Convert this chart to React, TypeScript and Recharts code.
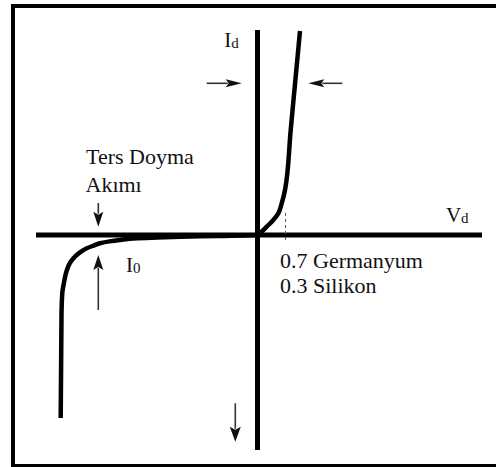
import React from "react";
import { LineChart, Line, XAxis, YAxis, ReferenceLine, ReferenceDot } from "recharts";

// diode I-V curve, reverse breakdown -> origin -> forward conduction
const voltage = [-4.92, -4.9, -4.88, -4.84, -4.78, -4.69, -4.6, -4.52, -4.4, -4.27, -4.1, -3.94, -3.7, -3.44, -3.01, -2.5, -1.94, -1.0, 0, 0.12, 0.23, 0.395, 0.52, 0.605, 0.6875, 0.83, 0.94, 1.0625];
const current = [-9.15, -4.0, -2.9, -2.4, -1.85, -1.4, -1.16, -1.0, -0.82, -0.665, -0.53, -0.415, -0.32, -0.25, -0.16, -0.12, -0.09, -0.05, 0, 0.2, 0.415, 0.75, 1.085, 1.585, 2.25, 5.25, 7.6, 10.2];

const kneeVoltage = 0.7;

const curve = voltage.map((v, k) => ({ v, i: current[k] }));

const X_DOMAIN: [number, number] = [-6.4375, 5.9625];
const Y_DOMAIN: [number, number] = [-11.6, 11.75];

const FONT = '"Liberation Serif", "Times New Roman", Times, serif';
const INK = "#111";

type Pt = { x: number; y: number };

// arrows: tail -> tip, in chart units
const arrows: { from: Pt; to: Pt; head: number; hw: number }[] = [
  { from: { x: -1.27, y: 7.585 }, to: { x: -0.395, y: 7.585 }, head: 16, hw: 4 },
  { from: { x: 2.12, y: 7.585 }, to: { x: 1.27, y: 7.585 }, head: 16, hw: 4 },
  { from: { x: -3.98, y: 1.6 }, to: { x: -3.98, y: 0.415 }, head: 15, hw: 5 },
  { from: { x: -3.98, y: -3.75 }, to: { x: -3.98, y: -1.0 }, head: 15, hw: 5 },
  { from: { x: -0.555, y: -8.415 }, to: { x: -0.555, y: -10.335 }, head: 15, hw: 5.5 },
];

const notes = [
  { text: "Ters Doyma", x: -4.2875, y: 3.55 },
  { text: "Akımı", x: -4.3, y: 2.165 },
  { text: "0.7 Germanyum", x: 0.5625, y: -1.665 },
  { text: "0.3 Silikon", x: 0.5625, y: -2.915 },
];

const symbols = [
  { main: "I", sub: "d", x: -0.83, y: 9.4 },
  { main: "V", sub: "d", x: 4.71, y: 0.65 },
  { main: "I", sub: "0", x: -3.29, y: -1.835 },
];

function Arrow(p: any) {
  const { x1, y1, x2, y2, head, hw } = p;
  const dx = x2 - x1;
  const dy = y2 - y1;
  const len = Math.hypot(dx, dy) || 1;
  const ux = dx / len;
  const uy = dy / len;
  const bx = x2 - ux * head;
  const by = y2 - uy * head;
  const px = -uy;
  const py = ux;
  return (
    <g>
      <line x1={x1} y1={y1} x2={bx + ux * 2} y2={by + uy * 2} stroke="#333" strokeWidth={1.6} />
      <polygon
        points={`${x2},${y2} ${bx + px * hw},${by + py * hw} ${bx + ux * 3},${by + uy * 3} ${bx - px * hw},${by - py * hw}`}
        fill={INK}
      />
    </g>
  );
}

export default function App() {
  return (
    <div style={{ position: "absolute", left: 0, top: 0, width: 496, height: 467, overflow: "hidden", background: "#fff" }}>
      <div
        style={{
          position: "absolute",
          left: 11,
          top: 4,
          width: 600,
          height: 464,
          border: "4px solid #000",
          boxSizing: "border-box",
        }}
      />
      <div style={{ position: "absolute", left: 0, top: 0 }}>
        <LineChart width={496} height={467} data={curve} margin={{ top: 0, right: 0, bottom: 0, left: 0 }}>
          <XAxis dataKey="v" type="number" domain={X_DOMAIN} allowDataOverflow hide />
          <YAxis type="number" domain={Y_DOMAIN} allowDataOverflow hide />

          {/* axes */}
          <ReferenceLine segment={[{ x: -5.5375, y: 0 }, { x: 5.6125, y: 0 }]} stroke="#000" strokeWidth={5} />
          <ReferenceLine segment={[{ x: 0, y: -10.75 }, { x: 0, y: 10.25 }]} stroke="#000" strokeWidth={5} />

          {/* knee marker */}
          <ReferenceLine
            segment={[{ x: kneeVoltage, y: 1.1 }, { x: kneeVoltage, y: -0.35 }]}
            stroke="#555"
            strokeWidth={1}
            strokeDasharray="3 3"
          />

          <Line
            dataKey="i"
            type="monotoneY"
            stroke="#000"
            strokeWidth={4.5}
            dot={false}
            activeDot={false}
            isAnimationActive={false}
          />

          {arrows.map((a, k) => (
            <ReferenceLine
              key={`ar-${k}`}
              segment={[a.from, a.to]}
              shape={(p: any) => <Arrow {...p} head={a.head} hw={a.hw} />}
            />
          ))}

          {notes.map((n, k) => (
            <ReferenceDot
              key={`n-${k}`}
              x={n.x}
              y={n.y}
              r={0}
              shape={(p: any) => (
                <text x={p.cx} y={p.cy} style={{ fontFamily: FONT, fontSize: 22 }} fill={INK}>
                  {n.text}
                </text>
              )}
            />
          ))}

          {symbols.map((s, k) => (
            <ReferenceDot
              key={`s-${k}`}
              x={s.x}
              y={s.y}
              r={0}
              shape={(p: any) => (
                <text x={p.cx} y={p.cy} style={{ fontFamily: FONT, fontSize: 21 }} fill={INK}>
                  {s.main}
                  <tspan style={{ fontSize: 15 }} dy={1}>{s.sub}</tspan>
                </text>
              )}
            />
          ))}
        </LineChart>
      </div>
    </div>
  );
}
